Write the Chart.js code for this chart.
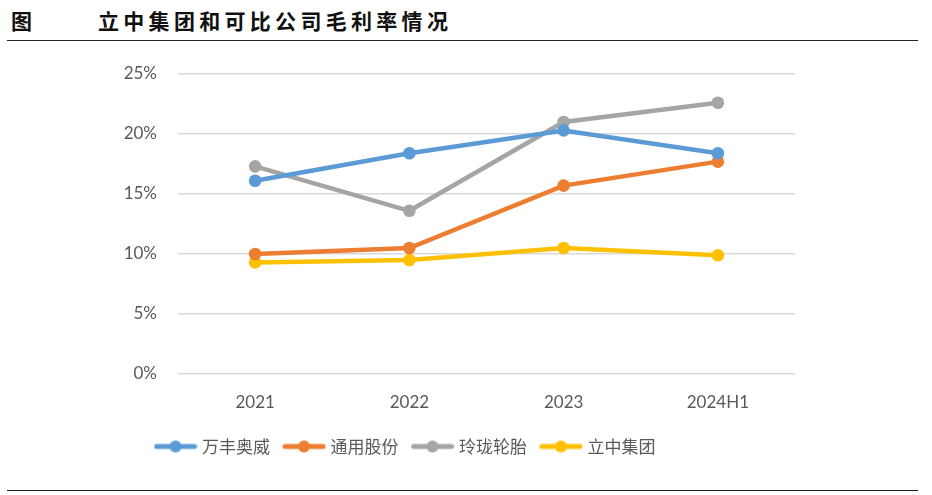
<!DOCTYPE html>
<html>
<head>
<meta charset="utf-8">
<script src="https://cdn.jsdelivr.net/npm/chart.js@4.4.0/dist/chart.umd.min.js"></script>
<style>
  body{margin:0;background:#fff;width:932px;height:495px;overflow:hidden;position:relative;font-family:"Noto Sans CJK SC",sans-serif;}
  #head{position:absolute;left:0;top:0;width:932px;height:41px;}
  #fig{position:absolute;left:11px;top:5px;font-size:21px;font-weight:bold;color:#111;}
  #title{position:absolute;left:98px;top:5px;font-size:21px;font-weight:bold;color:#111;letter-spacing:4.3px;}
  .rule{position:absolute;left:7px;width:911px;height:1px;background:#222;}
  #wrap{position:absolute;left:0;top:0;width:932px;height:495px;}
</style>
</head>
<body>
<div id="head">
  <div id="fig">图</div>
  <div id="title">立中集团和可比公司毛利率情况</div>
</div>
<div class="rule" style="top:40px"></div>
<div class="rule" style="top:490px"></div>
<div id="wrap"><canvas id="c"></canvas></div>
<script>
const categories=['2021','2022','2023','2024H1'];
const wanfeng=[16.1,18.4,20.3,18.4];
const tongyong=[10.0,10.5,15.7,17.7];
const linglong=[17.3,13.6,21.0,22.6];
const lizhong=[9.3,9.5,10.5,9.9];
const names=['万丰奥威','通用股份','玲珑轮胎','立中集团'];
const colors=['#5B9BD5','#ED7D31','#A5A5A5','#FFC000'];

function legendIcon(col){
  const cv=document.createElement('canvas');
  cv.width=44;cv.height=14;
  const g=cv.getContext('2d');
  g.strokeStyle=col;g.lineWidth=5;g.lineCap='round';
  g.beginPath();g.moveTo(3,7);g.lineTo(41,7);g.stroke();
  g.fillStyle=col;g.beginPath();g.arc(22,7,6,0,Math.PI*2);g.fill();
  return cv;
}
const icons=colors.map(legendIcon);

const series=[wanfeng,tongyong,linglong,lizhong];
const datasets=series.map((d,i)=>({
  label:names[i],
  data:d,
  borderColor:colors[i],
  backgroundColor:colors[i],
  borderWidth:4.5,
  pointRadius:6.3,
  pointHoverRadius:6.3,
  pointBackgroundColor:colors[i],
  pointBorderWidth:0,
  tension:0
}));

// legend sits left of the plot centre in the original
const shiftLegend={
  id:'shiftLegend',
  afterLayout(chart){
    if(chart.legend){chart.legend.left-=50;chart.legend.right-=50;}
  }
};

const tickFont={family:'Lato, "Open Sans", sans-serif',size:17};
new Chart(document.getElementById('c'),{
  type:'line',
  data:{labels:categories,datasets},
  plugins:[shiftLegend],
  options:{
    responsive:true,
    maintainAspectRatio:false,
    animation:false,
    layout:{padding:{left:118,right:137,top:74,bottom:30}},
    scales:{
      x:{
        offset:true,
        grid:{display:false,drawTicks:false},
        border:{display:false},
        ticks:{color:'#595959',font:tickFont,padding:18,maxRotation:0},
        afterFit:s=>{s.height=48;}
      },
      y:{
        min:0,max:25,
        grid:{color:'#D9D9D9',lineWidth:1.5,drawTicks:false},
        border:{display:false},
        ticks:{stepSize:5,color:'#595959',font:tickFont,padding:21,callback:v=>v+'%'},
        afterFit:s=>{s.width=60;}
      }
    },
    plugins:{
      tooltip:{enabled:false},
      legend:{
        position:'bottom',
        labels:{
          color:'#595959',
          font:{family:'"Noto Sans CJK SC", sans-serif',size:17},
          usePointStyle:true,
          pointStyleWidth:36,
          padding:16,
          generateLabels:chart=>chart.data.datasets.map((ds,i)=>({
            text:ds.label,
            pointStyle:icons[i],
            fillStyle:colors[i],
            strokeStyle:colors[i],
            fontColor:'#595959',
            lineWidth:0,
            datasetIndex:i,
            hidden:false
          }))
        }
      }
    }
  }
});
</script>
</body>
</html>
